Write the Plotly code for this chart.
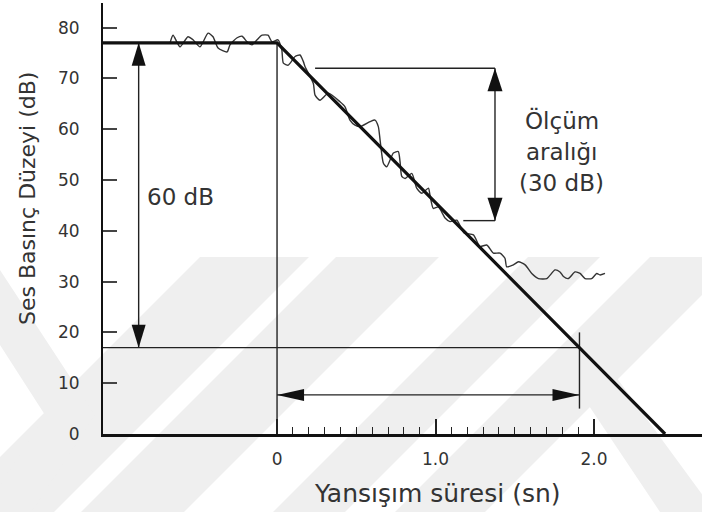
import plotly.graph_objects as go

# ---------------- data ----------------
level_start = 77          # dB, steady-state level
level_end = 17            # dB, level after 60 dB decay
rt_time = 1.908           # s, reverberation time
decay_x = [-1.098, 0.0, 2.448]
decay_y = [77, 77, 0]

noise_x = [-0.675, -0.656, -0.612, -0.562, -0.53, -0.486, -0.435, -0.404, -0.372, -0.315,
           -0.297, -0.252, -0.221, -0.189, -0.158, -0.126, -0.095, -0.057, -0.032, 0.006,
           0.03, 0.04, 0.071, 0.114, 0.145, 0.166, 0.177, 0.229, 0.24, 0.271,
           0.324, 0.397, 0.429, 0.46, 0.492, 0.524, 0.587, 0.618, 0.639, 0.65,
           0.671, 0.692, 0.734, 0.765, 0.776, 0.787, 0.808, 0.85, 0.881, 0.913,
           0.955, 0.965, 0.986, 1.018, 1.06, 1.091, 1.134, 1.18, 1.239, 1.28,
           1.323, 1.365, 1.407, 1.438, 1.449, 1.491, 1.523, 1.565, 1.607, 1.649,
           1.702, 1.754, 1.785, 1.807, 1.838, 1.880, 1.912, 1.943, 1.985, 2.017,
           2.038, 2.069]
noise_y = [77.0, 78.5, 76.2, 78.2, 77.6, 76.2, 78.9, 78.2, 76.0, 75.2,
           76.6, 78.0, 78.3, 77.2, 76.6, 77.6, 78.5, 78.5, 77.2, 77.6,
           75.6, 73.0, 72.6, 74.3, 74.6, 73.3, 72.3, 69.0, 66.7, 65.7,
           67.1, 65.4, 64.4, 61.8, 60.8, 60.5, 61.5, 61.8, 60.5, 57.9,
           53.3, 52.6, 55.3, 55.6, 53.6, 50.7, 50.3, 51.3, 48.4, 47.4,
           48.4, 47.0, 44.4, 44.7, 42.5, 41.8, 42.1, 39.6, 39.2, 36.9,
           37.2, 35.6, 35.6, 34.6, 32.9, 33.3, 33.9, 33.3, 31.6, 30.6,
           30.6, 32.3, 31.9, 31.0, 30.6, 31.9, 31.6, 30.6, 30.6, 31.6,
           31.3, 31.6]

eval_top = 72             # dB, start of measurement range
eval_bottom = 42          # dB, end of measurement range
eval_x_top_start = 0.24
eval_x_bottom_start = 1.175
eval_arrow_x = 1.375
span_arrow_x = -0.873     # x of the 60 dB arrow
rt_arrow_y = 7.7          # y of the RT arrow
rt_mark_y = [5, 20]

y_tickvals = [0, 10, 20, 30, 40, 50, 60, 70, 80]
x_tickvals = [0, 1, 2]
x_ticktext = ["0", "1.0", "2.0"]
x_minor_vals = [0.1, 0.2, 0.3, 0.4, 0.5, 0.6, 0.7, 0.8, 0.9,
                1.1, 1.2, 1.3, 1.4, 1.5, 1.6, 1.7, 1.8, 1.9]

# ---------------- layout geometry ----------------
W, H = 702, 512
ML, MR, MT, MB = 103, 0, 3, 78
XR = [-1.098, 2.681]
YR = [0, 84.84]
PW, PH = W - ML - MR, H - MT - MB
PXX = PW / (XR[1] - XR[0])   # pixels per second
PXY = PH / (YR[1] - YR[0])   # pixels per dB

FONT = "DejaVu Sans"
TXT = "#333333"
LINE = "#222222"

fig = go.Figure()

# watermark (light diagonal bands), pixel polygons -> paper coords
def pp(px, py):
    return (px - ML) / PW, (H - MB - py) / PH

wm_polys = [
    [(200, 257), (309, 257), (54, 512), (-55, 512)],
    [(336, 257), (439, 257), (184, 512), (81, 512)],
    [(528, 257), (600, 257), (345, 512), (273, 512)],
    [(650, 257), (740, 257), (485, 512), (395, 512)],
    [(0, 270), (95, 415), (0, 560), (0, 485), (45, 415), (0, 345)],
    [(555, 355), (600, 355), (715, 512), (660, 512)],
]
for poly in wm_polys:
    pts = [pp(a, b) for a, b in poly]
    path = "M" + " L".join(f"{a:.4f},{b:.4f}" for a, b in pts) + " Z"
    fig.add_shape(type="path", path=path, xref="paper", yref="paper",
                  fillcolor="#efefef", line=dict(width=0), layer="below")

# thin guide lines
gx = [0, 0, None, XR[0], rt_time, None, rt_time, rt_time, None,
      0, rt_time, None, span_arrow_x, span_arrow_x, None,
      eval_x_top_start, eval_arrow_x, None, eval_x_bottom_start, eval_arrow_x, None,
      eval_arrow_x, eval_arrow_x]
gy = [0, level_start, None, level_end, level_end, None, rt_mark_y[0], rt_mark_y[1], None,
      rt_arrow_y, rt_arrow_y, None, level_start, level_end, None,
      eval_top, eval_top, None, eval_bottom, eval_bottom, None,
      eval_top, eval_bottom]
fig.add_trace(go.Scatter(x=gx, y=gy, mode="lines", line=dict(color=LINE, width=1.4),
                         hoverinfo="skip", showlegend=False))

# measured noisy decay
fig.add_trace(go.Scatter(x=noise_x, y=noise_y, mode="lines",
                         line=dict(color="#333333", width=1.4, shape="spline", smoothing=0.6),
                         hoverinfo="skip", showlegend=False))

# idealised decay line
fig.add_trace(go.Scatter(x=decay_x, y=decay_y, mode="lines",
                         line=dict(color="#111111", width=3.2),
                         hoverinfo="skip", showlegend=False))

# arrow heads
def head(tx, ty, d, length, half):
    if d in ("up", "down"):
        s = -1 if d == "up" else 1
        by = ty + s * length / PXY
        hw = half / PXX
        pts = [(tx, ty), (tx - hw, by), (tx + hw, by)]
    else:
        s = 1 if d == "left" else -1
        bx = tx + s * length / PXX
        hh = half / PXY
        pts = [(tx, ty), (bx, ty - hh), (bx, ty + hh)]
    path = "M" + " L".join(f"{a:.5f},{b:.5f}" for a, b in pts) + " Z"
    fig.add_shape(type="path", path=path, xref="x", yref="y",
                  fillcolor="#111111", line=dict(width=0), layer="above")

head(span_arrow_x, level_start, "up", 23, 7)
head(span_arrow_x, level_end, "down", 23, 7)
head(eval_arrow_x, eval_top, "up", 23, 7.5)
head(eval_arrow_x, eval_bottom, "down", 23, 7.5)
head(0, rt_arrow_y, "left", 27, 6)
head(rt_time, rt_arrow_y, "right", 27, 6)

# texts
ann = []
ann.append(dict(x=-0.612, y=46.6, xref="x", yref="y", text="60 dB", showarrow=False,
                xanchor="center", yanchor="middle",
                font=dict(family=FONT, size=23, color=TXT)))
for t, yy in (("Ölçüm", 61.8), ("aralığı", 55.6), ("(30 dB)", 49.4)):
    ann.append(dict(x=1.795, y=yy, xref="x", yref="y", text=t, showarrow=False,
                    xanchor="center", yanchor="middle",
                    font=dict(family=FONT, size=23, color=TXT)))
ax_, ay_ = pp(437, 493)
ann.append(dict(x=ax_, y=ay_, xref="paper", yref="paper", text="Yansışım süresi (sn)",
                xanchor="center", yanchor="middle",
                showarrow=False, font=dict(family=FONT, size=25, color=TXT)))
bx_, by_ = pp(27, 199)
ann.append(dict(x=bx_, y=by_, xref="paper", yref="paper", text="Ses Basınç Düzeyi (dB)",
                xanchor="center", yanchor="middle",
                textangle=-90, showarrow=False, font=dict(family=FONT, size=22, color=TXT)))

fig.update_layout(
    width=W, height=H,
    margin=dict(l=ML, r=MR, t=MT, b=MB, pad=0),
    paper_bgcolor="white", plot_bgcolor="rgba(0,0,0,0)",
    showlegend=False,
    annotations=ann,
    xaxis=dict(range=XR, showgrid=False, zeroline=False, showline=True,
               linecolor="#111111", linewidth=2.5,
               ticks="inside", tickvals=x_tickvals, ticktext=x_ticktext,
               ticklen=15, tickwidth=1.5, tickcolor=LINE,
               minor=dict(tickvals=x_minor_vals, ticks="inside", ticklen=7,
                          tickwidth=1.3, tickcolor=LINE, showgrid=False),
               tickfont=dict(family=FONT, size=17, color=TXT),
               ticklabelstandoff=8),
    yaxis=dict(range=YR, showgrid=False, zeroline=False, showline=True,
               linecolor="#111111", linewidth=2,
               ticks="inside", tickvals=y_tickvals, ticklen=14, tickwidth=2,
               tickcolor="#444444",
               tickfont=dict(family=FONT, size=17, color=TXT),
               ticklabelstandoff=18),
)

fig.write_html("out.html", config={"displayModeBar": False},
               post_script="document.body.style.margin='0px';")
